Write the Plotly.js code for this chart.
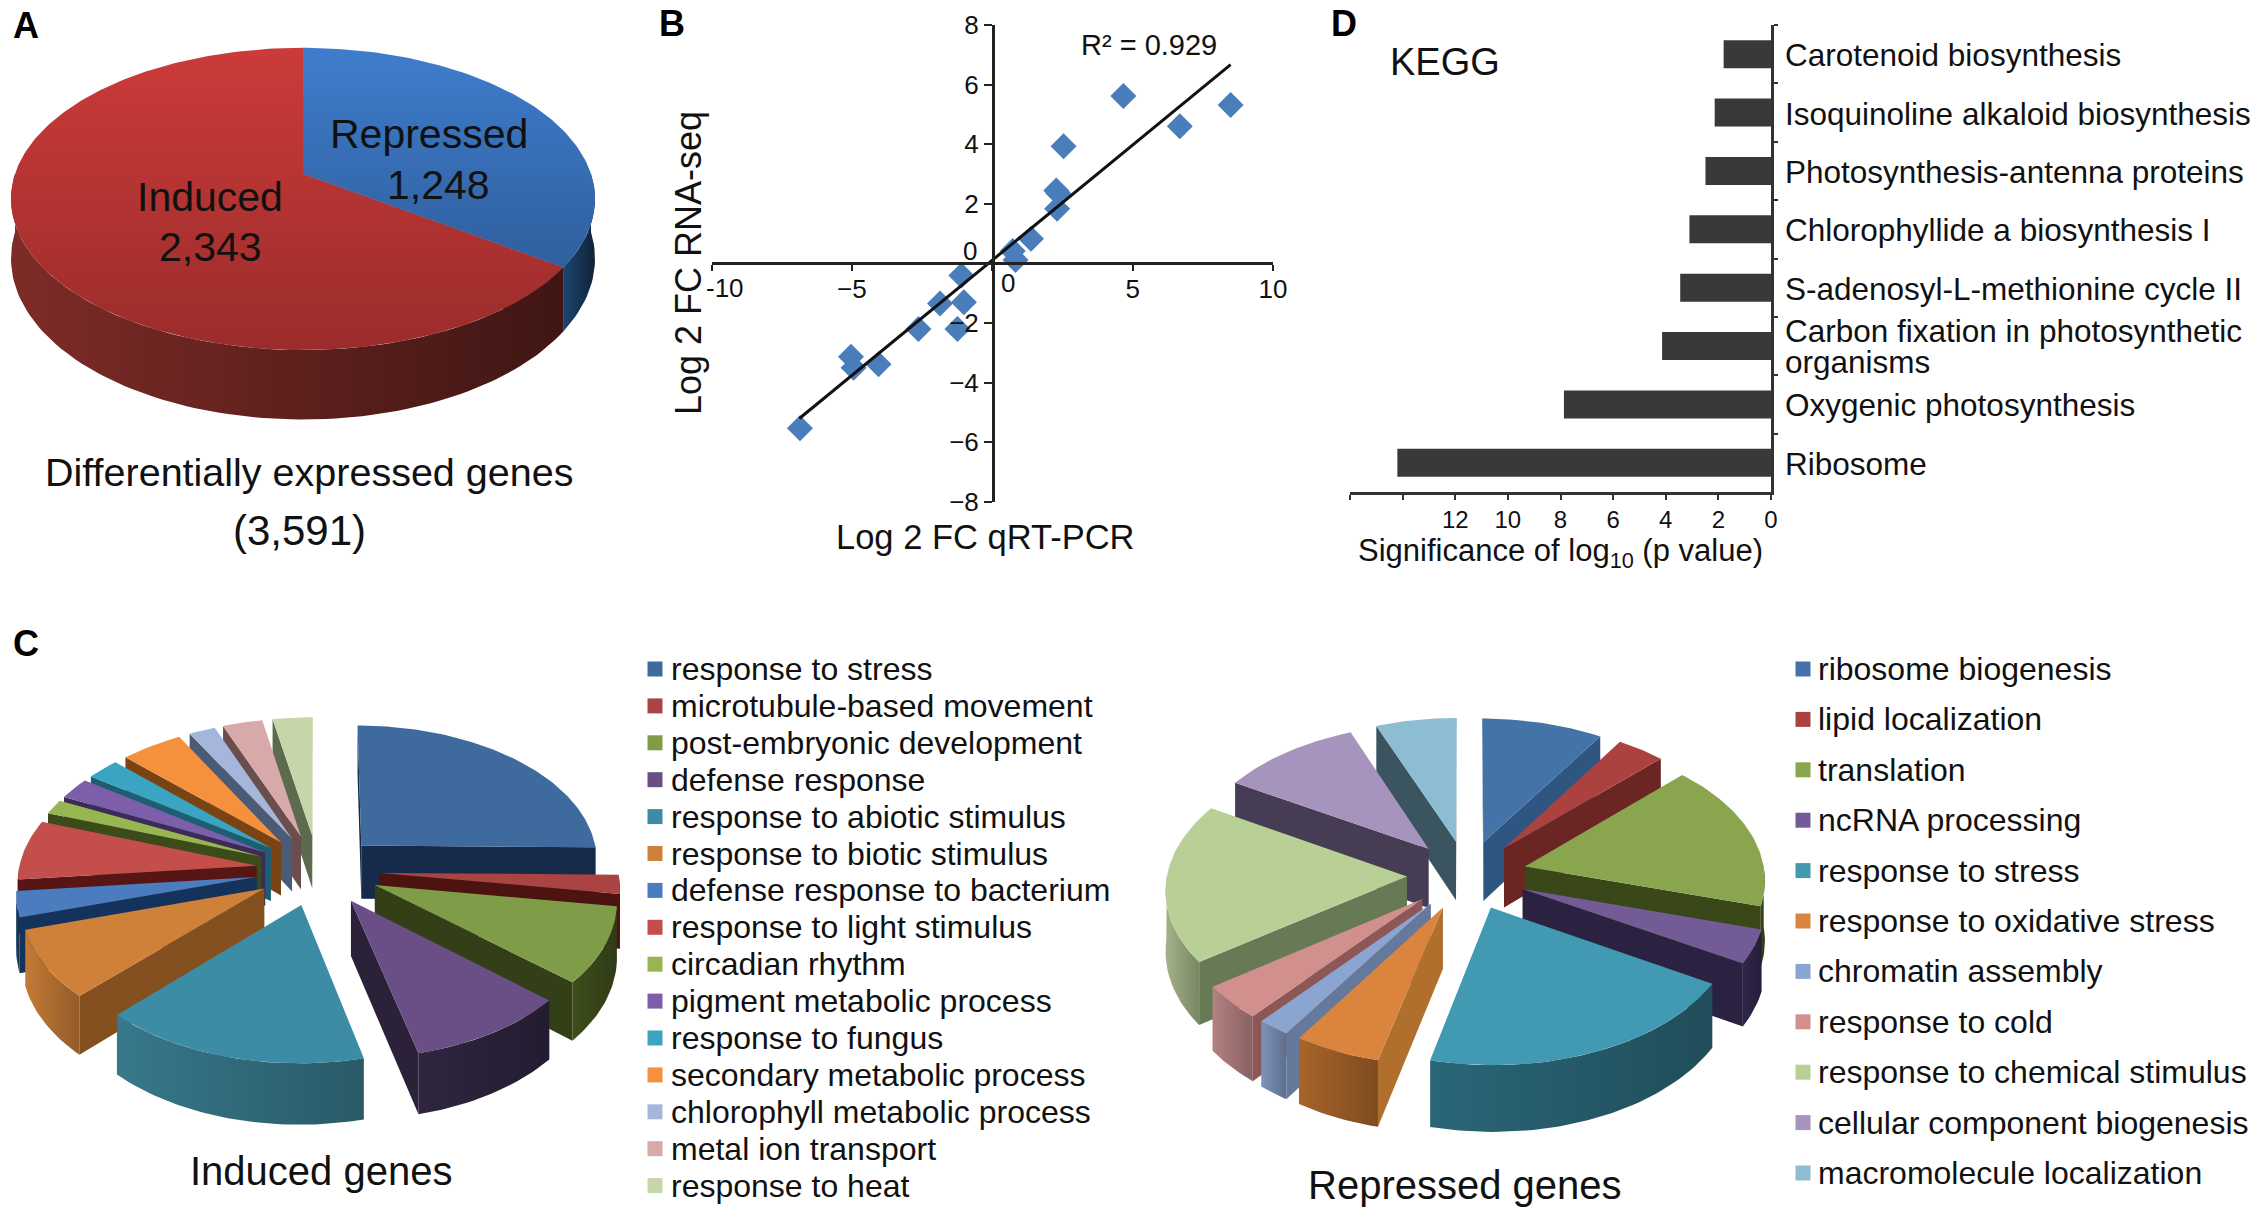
<!DOCTYPE html>
<html>
<head>
<meta charset="utf-8">
<script src="https://cdn.plot.ly/plotly-3.0.1.min.js"></script>
<style>body { margin: 0; background: #fff; }</style>
</head>
<body>
<div id="myDiv"></div>
<script>
var fontName = '"Liberation Sans", Arial, sans-serif';

// panel A
var degCounts = [1248, 2343];
var degNames = ['Repressed', 'Induced'];
var degLabels = ['1,248', '2,343'];

// panel B
var qpcr = [-6.85, -5.03, -4.94, -4.05, -2.63, -1.86, -1.24, -1.01, -1.1, 0.73, 0.83, 1.38, 2.31, 2.28, 2.35, 2.54, 4.67, 6.68, 8.49];
var rnaseq = [-5.53, -3.13, -3.5, -3.38, -2.2, -1.34, -2.2, -1.3, -0.4, 0.42, 0.12, 0.83, 1.84, 2.45, 2.36, 3.93, 5.62, 4.6, 5.32];
var trendX = [-6.87, 8.49];
var trendY = [-5.2, 6.67];

// panel C
var inducedNames = ['response to stress', 'microtubule-based movement', 'post-embryonic development', 'defense response', 'response to abiotic stimulus', 'response to biotic stimulus', 'defense response to bacterium', 'response to light stimulus', 'circadian rhythm', 'pigment metabolic process', 'response to fungus', 'secondary metabolic process', 'chlorophyll metabolic process', 'metal ion transport', 'response to heat'];
var inducedPct = [25, 2.2, 8.9, 9.7, 16, 8, 3, 7, 1.7, 2.5, 2.5, 4.7, 2, 3, 3];
var repressedNames = ['ribosome biogenesis', 'lipid localization', 'translation', 'ncRNA processing', 'response to stress', 'response to oxidative stress', 'chromatin assembly', 'response to cold', 'response to chemical stimulus', 'cellular component biogenesis', 'macromolecule localization'];
var repressedPct = [9, 3.6, 17, 3.9, 20.4, 5.3, 2, 4, 18.5, 10.5, 6];

// panel D
var keggNames = ['Ribosome', 'Oxygenic photosynthesis', 'Carbon fixation in photosynthetic<br>organisms', 'S-adenosyl-L-methionine cycle II', 'Chlorophyllide a biosynthesis I', 'Photosynthesis-antenna proteins', 'Isoquinoline alkaloid biosynthesis', 'Carotenoid biosynthesis'];
var keggValues = [14.2, 7.87, 4.14, 3.45, 3.1, 2.49, 2.14, 1.8];
var keggTicks = [0, 2, 4, 6, 8, 10, 12];
var keggBlankTicks = [14, 16];

// colours
var inducedTop = ['#3e6a9e', '#a94442', '#7f9c48', '#694f86', '#3d8ca5', '#cf8039', '#4a7cbf', '#c34e4b', '#97b550', '#7d5ea8', '#39a5c2', '#f5903d', '#a4b7da', '#d7a9a9', '#c5d6a8'];
var inducedFace = ['#162a49', '#4d1311', '#333f17', '#2b2139', '#1f4f5b', '#85501f', '#13335c', '#571515', '#3c4c18', '#3c2a58', '#1d5f72', '#7a4313', '#4b5a75', '#6a4e4e', '#5c6b4e'];
var inducedRim = ['#162a49', '#7a2020', '#3f4e1c', '#2f2540', '#37788b', '#c47a36', '#1d3e66', '#5f1a18', '#4c6020', '#4a3268', '#1f6f85', '#a85c1c', '#5d6d8c', '#8b6b6b', '#6f8058'];
var repressedTop = ['#4473a8', '#ab4240', '#89a64e', '#735b95', '#4199b2', '#da843d', '#8aa5cf', '#d18f8e', '#b8cf95', '#a694be', '#8cbdd2'];
var repressedFace = ['#2f5581', '#6b2624', '#3a4819', '#2b2140', '#1c3e49', '#b06f2d', '#64799c', '#8e5757', '#667a56', '#463c53', '#3b5560'];
var repressedRim = ['#2f5581', '#6b2624', '#3a4819', '#30264a', '#2a6678', '#a8642a', '#7d93ba', '#b58181', '#a3b386', '#463c53', '#3b5560'];

function shade(hex, f) {
    var n = parseInt(hex.slice(1), 16);
    var r = Math.round((n >> 16) * f);
    var g = Math.round(((n >> 8) & 255) * f);
    var b = Math.round((n & 255) * f);
    return 'rgb(' + r + ',' + g + ',' + b + ')';
}

function project(a, b, p) {
    var s = 1 / (1 + p.k * b);
    return { x: p.cx + p.R * a * s, y: p.cy - p.H * b * s, d: p.D * s };
}

function polygon(pts, fillStyle) {
    var t = {
        x: pts.map(function (q) { return q[0]; }),
        y: pts.map(function (q) { return q[1]; }),
        mode: 'lines',
        fill: 'toself',
        line: { width: 0 },
        hoverinfo: 'skip',
        showlegend: false
    };
    if (typeof fillStyle == 'string') {
        t.fillcolor = fillStyle;
    } else {
        t.fillgradient = fillStyle;
    }
    return t;
}

// tilted pie made of filled polygons, with a simple perspective so the
// centre sits above the middle of the ellipse as in the picture
function pieTraces(values, tops, faces, rims, p) {
    var total = values.reduce(function (m, v) { return m + v; }, 0);
    var start = 0;
    var wedges = values.map(function (v, i) {
        var w = { i: i, t1: start, t2: start + v / total * 360 };
        w.mid = (w.t1 + w.t2) / 2;
        start = w.t2;
        return w;
    });
    // far slices first
    wedges.sort(function (m, n) {
        return Math.cos(n.mid * Math.PI / 180) - Math.cos(m.mid * Math.PI / 180);
    });
    var traces = [];
    wedges.forEach(function (w) {
        var rad = Math.PI / 180;
        var ox = p.pull * Math.sin(w.mid * rad);
        var oy = p.pull * Math.cos(w.mid * rad);
        function rimPt(t) {
            return project(ox + Math.sin(t * rad), oy + Math.cos(t * rad), p);
        }
        var apex = project(ox, oy, p);
        var mid = rimPt(w.mid);

        // outer wall, front half only
        var r1 = Math.max(w.t1, 90), r2 = Math.min(w.t2, 270);
        if (r2 > r1) {
            var upper = [], lower = [];
            for (var t = r1; t < r2; t += 1.5) {
                var q = rimPt(t);
                upper.push([q.x, q.y]);
                lower.unshift([q.x, q.y + q.d]);
            }
            var e = rimPt(r2);
            upper.push([e.x, e.y]);
            lower.unshift([e.x, e.y + e.d]);
            var c = rims[w.i];
            traces.push(polygon(upper.concat(lower), {
                type: 'horizontal',
                colorscale: [[0, c], [1, shade(c, p.fade)]]
            }));
        }

        // cut faces that look towards the viewer
        [w.t1, w.t2].forEach(function (t) {
            var q = rimPt(t);
            var cross = (q.x - apex.x) * (mid.y - apex.y) - (q.y - apex.y) * (mid.x - apex.x);
            if ((q.x - apex.x) * cross < -1e-6) {
                traces.push(polygon([[apex.x, apex.y], [q.x, q.y], [q.x, q.y + q.d], [apex.x, apex.y + apex.d]], faces[w.i]));
            }
        });

        // top
        var pts = [[apex.x, apex.y]];
        for (var a = w.t1; a < w.t2; a += 1) {
            var q2 = rimPt(a);
            pts.push([q2.x, q2.y]);
        }
        var last = rimPt(w.t2);
        pts.push([last.x, last.y]);
        pts.push([apex.x, apex.y]);
        var top = tops[w.i];
        traces.push(polygon(pts, typeof top == 'string' ? top : {
            type: 'vertical',
            colorscale: [[0, top[0]], [1, top[1]]]
        }));
    });
    return traces;
}

function note(text, x, y, size, extra) {
    var a = {
        text: text, x: x, y: y, xref: 'x', yref: 'y', showarrow: false,
        font: { family: fontName, size: size, color: '#111' }
    };
    for (var k in extra) {
        a[k] = extra[k];
    }
    return a;
}

var data = [];

data = data.concat(pieTraces(degCounts,
    [['#2f5f9e', '#3f7dcc'], ['#9a2c2b', '#cb3b39']],
    ['#12304f', '#4a1410'],
    ['#1d4570', '#7e2b27'],
    { cx: 303, cy: 174, R: 288, H: 147, k: 0.165, D: 58, pull: 0, fade: 0.5 }));
data = data.concat(pieTraces(inducedPct, inducedTop, inducedFace, inducedRim,
    { cx: 318, cy: 870, R: 238, H: 136, k: 0.096, D: 54, pull: 0.26, fade: 0.75 }));
data = data.concat(pieTraces(repressedPct, repressedTop, repressedFace, repressedRim,
    { cx: 1467, cy: 875, R: 240, H: 139, k: 0.082, D: 60, pull: 0.25, fade: 0.75 }));

// legend squares, same top colours as the slices
data.push({
    x: inducedNames.map(function () { return 655; }),
    y: inducedNames.map(function (n, i) { return 669 + i * 36.9; }),
    mode: 'markers',
    marker: { symbol: 'square', size: 15, color: inducedTop },
    hoverinfo: 'skip',
    showlegend: false
});
data.push({
    x: repressedNames.map(function () { return 1803; }),
    y: repressedNames.map(function (n, i) { return 669 + i * 50.4; }),
    mode: 'markers',
    marker: { symbol: 'square', size: 15, color: repressedTop },
    hoverinfo: 'skip',
    showlegend: false
});

// panel B
data.push({
    x: qpcr, y: rnaseq, xaxis: 'x2', yaxis: 'y2',
    mode: 'markers', type: 'scatter',
    marker: { symbol: 'diamond', size: 20, color: '#4a7ebb' },
    showlegend: false
});
data.push({
    x: trendX, y: trendY, xaxis: 'x2', yaxis: 'y2',
    mode: 'lines', type: 'scatter',
    line: { color: '#111', width: 3 },
    showlegend: false
});

// panel D
data.push({
    type: 'bar', orientation: 'h',
    x: keggValues, y: keggNames, xaxis: 'x3', yaxis: 'y3',
    width: 0.48,
    marker: { color: '#3a3838' },
    showlegend: false
});

var panelFont = { family: fontName, size: 36, color: '#000', weight: 'bold' };
var annotations = [
    note('A', 26, 25, 36, { font: panelFont }),
    note('B', 672, 23, 36, { font: panelFont }),
    note('C', 26, 643, 36, { font: panelFont }),
    note('D', 1344, 23, 36, { font: panelFont }),
    note(degNames[0], 429, 134, 41),
    note(degLabels[0], 438, 185, 41),
    note(degNames[1], 210, 197, 41),
    note(degLabels[1], 210, 247, 41),
    note('Differentially expressed genes', 309, 472, 39.5),
    note('(3,591)', 299, 530, 42),
    note('R² = 0.929', 1149, 45, 29),
    note('-10', 725, 288, 26),
    note('0', 1008, 283, 26),
    note('0', 970, 251, 26),
    note('Log 2 FC qRT-PCR', 985, 537, 34.5),
    note('Log 2 FC RNA-seq', 688, 263, 36, { textangle: -90 }),
    note('KEGG', 1445, 62, 38),
    note('Induced genes', 321, 1171, 40),
    note('Repressed genes', 1465, 1185, 40)
];
inducedNames.forEach(function (n, i) {
    annotations.push(note(n, 669, 669 + i * 36.9, 32, { xanchor: 'left' }));
});
repressedNames.forEach(function (n, i) {
    annotations.push(note(n, 1816, 669 + i * 50.4, 32, { xanchor: 'left' }));
});

var W = 2266, H = 1218;

// KEGG names sit on the bar rows, the long one is set in two tight lines
keggNames.forEach(function (n) {
    var parts = n.split('<br>');
    parts.forEach(function (part, j) {
        annotations.push(note(part, 1783 / W, n, 31.5, {
            xref: 'paper', yref: 'y3', xanchor: 'left',
            yshift: parts.length > 1 ? (j == 0 ? 15 : -16) : -1
        }));
    });
});

var layout = {
    width: W,
    height: H,
    margin: { l: 0, r: 0, t: 0, b: 0 },
    paper_bgcolor: '#fff',
    plot_bgcolor: 'rgba(0,0,0,0)',
    font: { family: fontName, color: '#111' },
    showlegend: false,
    annotations: annotations,
    // whole page, used by the pies, legends and labels
    xaxis: { domain: [0, 1], range: [0, W], visible: false, fixedrange: true },
    yaxis: { domain: [0, 1], range: [H, 0], visible: false, fixedrange: true },
    xaxis2: {
        domain: [711.5 / W, 1273 / W],
        range: [-10, 10],
        anchor: 'free',
        position: 1 - 263 / H,
        showgrid: false, zeroline: false, showline: true,
        linecolor: '#222', linewidth: 2.5,
        ticks: 'outside', ticklen: 6, tickcolor: '#222', tickwidth: 2,
        tickvals: [-5, 5, 10],
        ticklabelstandoff: -4,
        minor: { tickvals: [-10, 0], ticks: 'outside', ticklen: 6, tickcolor: '#222', tickwidth: 2, showgrid: false },
        tickfont: { size: 26, family: fontName, color: '#111' }
    },
    yaxis2: {
        domain: [1 - 502 / H, 1 - 25 / H],
        range: [-8, 8],
        anchor: 'free',
        position: 993 / W,
        showgrid: false, zeroline: false, showline: true,
        linecolor: '#222', linewidth: 2.5,
        ticks: 'outside', ticklen: 8, tickcolor: '#222', tickwidth: 2,
        tickvals: [-8, -6, -4, -2, 2, 4, 6, 8],
        minor: { tickvals: [0], ticks: 'outside', ticklen: 8, tickcolor: '#222', tickwidth: 2, showgrid: false },
        tickfont: { size: 26, family: fontName, color: '#111' }
    },
    xaxis3: {
        domain: [1350 / W, 1771 / W],
        range: [16, 0],
        anchor: 'y3',
        showgrid: false, zeroline: false, showline: true,
        linecolor: '#333', linewidth: 2.5,
        ticks: 'outside', ticklen: 5, tickcolor: '#333', tickwidth: 2,
        tickvals: keggTicks,
        minor: { tickvals: keggBlankTicks, ticks: 'outside', ticklen: 5, tickcolor: '#333', tickwidth: 2, showgrid: false },
        tickfont: { size: 24, family: fontName, color: '#111' },
        title: { text: 'Significance of log<sub>10</sub> (p value)', font: { size: 31, family: fontName, color: '#111' }, standoff: 6 }
    },
    yaxis3: {
        domain: [1 - 492 / H, 1 - 25 / H],
        anchor: 'x3',
        side: 'right',
        type: 'category',
        categoryorder: 'array',
        categoryarray: keggNames,
        showgrid: false, zeroline: false, showline: true,
        linecolor: '#333', linewidth: 2.5,
        ticks: 'outside', tickson: 'boundaries', ticklen: 4, tickcolor: '#333', tickwidth: 2,
        showticklabels: false
    }
};

var config = { displayModeBar: false, staticPlot: true };

Plotly.newPlot('myDiv', data, layout, config);
</script>
</body>
</html>
